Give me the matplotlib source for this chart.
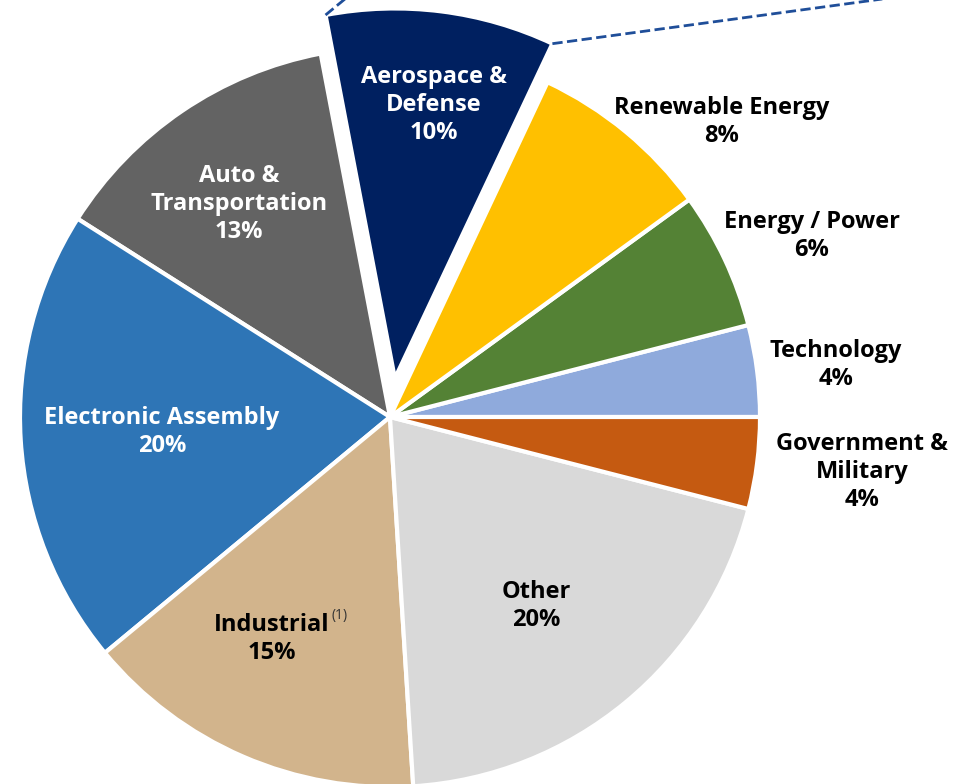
import numpy as np
import matplotlib
matplotlib.use('Agg')
from matplotlib import pyplot as plt

plt.rcParams['font.family'] = ['Open Sans', 'DejaVu Sans']

# data (counterclockwise from 3 o'clock)
sectors = ['Technology', 'Energy / Power', 'Renewable Energy', 'Aerospace &\nDefense',
           'Auto &\nTransportation', 'Electronic Assembly', 'Industrial', 'Other',
           'Government &\nMilitary']
shares = [4, 6, 8, 10, 13, 20, 15, 20, 4]
colors = ['#8FAADC', '#548235', '#FFC000', '#002060', '#636363', '#2E75B6',
          '#D2B48C', '#D9D9D9', '#C55A11']

# label placement (pixels, y from bottom) and text colour
label_xy = [(836, 419), (812, 548), (722, 662), (434, 679), (239, 580),
            (162, 352), (272, 145), (536, 178), (862, 312)]
label_col = ['black', 'black', 'black', 'white', 'white', 'white',
             'black', 'black', 'black']

fig = plt.figure(figsize=(9.66, 7.84), dpi=100)
ax = fig.add_axes([0, 0, 1, 1])

cx, cy, R = 390, 367, 370
explode = [0, 0, 0, 0.105 * R, 0, 0, 0, 0, 0]  # pie explode is in data units
wedges, _ = ax.pie(shares, colors=colors, explode=explode, startangle=0,
                   counterclock=True, center=(cx, cy), radius=R,
                   wedgeprops=dict(edgecolor='white', linewidth=3))
ax.set_xlim(0, 966)
ax.set_ylim(0, 784)
ax.set_aspect('equal')
ax.axis('off')

fs = 17
for name, v, (x, y), c in zip(sectors, shares, label_xy, label_col):
    if name == 'Industrial':
        ax.text(x, y + 14, name, ha='center', va='center', fontsize=fs,
                fontweight='bold', color=c)
        ax.text(x + 68, y + 24, '(1)', ha='center', va='center', fontsize=10,
                color='#333333')
        ax.text(x, y - 14, f'{v}%', ha='center', va='center', fontsize=fs,
                fontweight='bold', color=c)
    else:
        ax.text(x, y, f'{name}\n{v}%', ha='center', va='center', fontsize=fs,
                fontweight='bold', color=c, linespacing=1.2)

# leader lines from the exploded wedge to the callout above
w = wedges[3]
ang1, ang2 = np.deg2rad(w.theta1), np.deg2rad(w.theta2)
wx, wy = w.center
right = (wx + R * np.cos(ang1), wy + R * np.sin(ang1))
left = (wx + R * np.cos(ang2), wy + R * np.sin(ang2))
ax.plot([left[0], left[0] + 40], [left[1], left[1] + 33], ls='--', lw=2,
        color='#1F4E99', clip_on=False)
ax.plot([right[0], right[0] + 480], [right[1], right[1] + 65], ls='--', lw=2,
        color='#1F4E99', clip_on=False)

fig.savefig('out.png', dpi=100)
